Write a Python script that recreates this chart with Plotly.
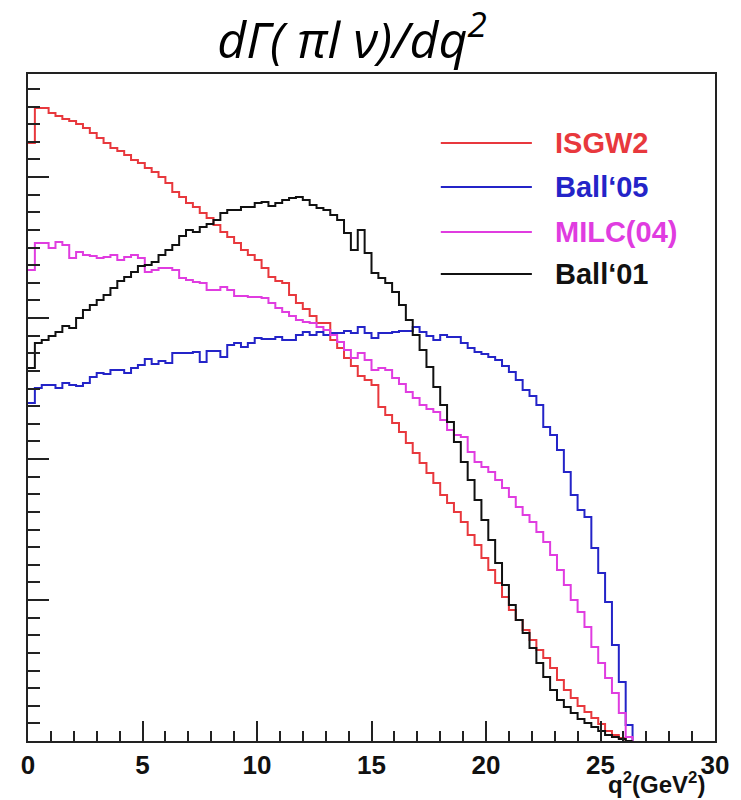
import numpy as np
import plotly.graph_objects as go

# Histogram binning (q^2 in GeV^2)
bin_width = 0.3
n_bins = 88

series_names = ["ISGW2", "Ball‘05", "MILC(04)", "Ball‘01"]
series_colors = ["#e8383d", "#2424c8", "#e03ce0", "#111111"]

# dGamma/dq^2 (arbitrary units) per bin
isgw2 = [598, 633, 633, 628, 625, 622, 620, 617, 613, 608,
         603, 598, 593, 590, 586, 581, 578, 573, 569, 564,
         558, 549, 544, 538, 534, 528, 523, 516, 509, 504,
         498, 491, 486, 481, 473, 464, 460, 458, 446, 438,
         432, 425, 418, 418, 401, 393, 383, 375, 365, 361,
         356, 334, 326, 318, 309, 298, 288, 278, 268, 258,
         246, 238, 229, 219, 206, 196, 183, 171, 158, 144,
         131, 121, 111, 101, 91, 83, 73, 61, 51, 43,
         35, 29, 23, 17, 10, 6, 3, 0]

ball05 = [338, 353, 356, 356, 353, 358, 356, 355, 358, 364,
          368, 367, 371, 371, 368, 373, 376, 382, 377, 380,
          378, 388, 388, 388, 389, 379, 390, 390, 384, 396,
          398, 394, 398, 403, 402, 402, 404, 401, 401, 406,
          409, 406, 409, 406, 408, 408, 410, 408, 414, 408,
          403, 408, 408, 409, 410, 410, 414, 409, 405, 401,
          406, 404, 404, 398, 393, 389, 387, 384, 381, 375,
          369, 361, 351, 345, 336, 314, 306, 291, 269, 246,
          231, 224, 193, 168, 139, 96, 59, 16]

milc04 = [471, 498, 498, 493, 499, 496, 483, 489, 486, 485,
          483, 484, 486, 481, 484, 486, 483, 469, 471, 473,
          473, 471, 463, 461, 459, 458, 451, 451, 454, 451,
          445, 445, 444, 444, 443, 438, 433, 429, 425, 421,
          419, 418, 414, 411, 406, 399, 391, 383, 388, 381,
          371, 373, 371, 363, 357, 349, 343, 336, 332, 329,
          321, 311, 306, 304, 289, 279, 274, 269, 261, 253,
          244, 234, 226, 219, 209, 199, 186, 171, 156, 141,
          129, 114, 94, 78, 63, 48, 28, 4]

ball01 = [373, 398, 401, 405, 409, 415, 413, 423, 431, 436,
          441, 446, 453, 460, 464, 469, 475, 476, 479, 486,
          491, 496, 505, 511, 509, 514, 517, 521, 528, 531,
          531, 534, 534, 538, 539, 535, 538, 541, 543, 544,
          541, 536, 533, 531, 526, 521, 508, 491, 511, 488,
          468, 463, 458, 449, 436, 421, 406, 391, 374, 354,
          336, 319, 299, 279, 261, 241, 221, 201, 178, 156,
          136, 121, 108, 93, 78, 64, 51, 41, 34, 28,
          22, 18, 14, 10, 6, 4, 2, 0]

all_series = [isgw2, ball05, milc04, ball01]

x_ticks = [0, 5, 10, 15, 20, 25, 30]
y_major = 141
y_max = 667

edges = np.arange(n_bins + 1) * bin_width

fig = go.Figure()
for name, color, vals in zip(series_names, series_colors, all_series):
    fig.add_trace(go.Scatter(
        x=edges, y=list(vals) + [0], mode="lines", line_shape="hv",
        line=dict(color=color, width=2), name=name, showlegend=False,
        cliponaxis=True,
    ))

# Manual legend (long line samples, coloured bold labels)
L, R, T, B = 28, 19, 74, 59
pw = 741 - L - R
ph = 800 - T - B
leg_y_px = [143, 187, 232, 274]
for name, color, ypx in zip(series_names, series_colors, leg_y_px):
    yp = (741 - ypx) / ph
    fig.add_shape(type="line", xref="paper", yref="paper",
                  x0=(445 - L) / pw, x1=(537 - L) / pw, y0=yp, y1=yp,
                  line=dict(color=color, width=2))
    fig.add_annotation(xref="paper", yref="paper", x=(558 - L) / pw, y=yp,
                       text=name, showarrow=False, xanchor="left", yanchor="middle",
                       font=dict(family="Liberation Sans", size=29, color=color, weight="bold"))

fig.add_annotation(xref="paper", yref="paper", x=(714 - L) / pw, y=(741 - 783) / ph,
                   text="q<sup>2</sup>(GeV<sup>2</sup>)", showarrow=False,
                   xanchor="right", yanchor="middle",
                   font=dict(family="Liberation Sans", size=24, color="#111", weight="bold"))

fig.update_layout(
    width=741, height=800,
    margin=dict(l=L, r=R, t=T, b=B),
    paper_bgcolor="white", plot_bgcolor="white",
    title=dict(text="dΓ( πl ν)/dq<sup>2</sup>", x=352 / 741, xanchor="center",
               y=1 - 40 / 800, yanchor="middle", yref="container",
               font=dict(family="Open Sans", size=50, color="black", style="italic")),
    showlegend=False,
)
fig.update_xaxes(range=[0, 30], tickvals=x_ticks, ticks="inside", ticklen=20, tickwidth=2,
                 tickcolor="#222", showline=True, linecolor="#222", linewidth=2, mirror=True,
                 showgrid=False, zeroline=False,
                 tickfont=dict(family="Liberation Sans", size=26, color="#111", weight="bold"),
                 minor=dict(dtick=1, ticks="inside", ticklen=10, tickwidth=2, tickcolor="#222"))
fig.update_yaxes(range=[0, y_max], tick0=0, dtick=y_major, ticks="inside", ticklen=21, tickwidth=2,
                 tickcolor="#222", showline=True, linecolor="#222", linewidth=2, mirror=True,
                 showgrid=False, zeroline=False, showticklabels=False,
                 minor=dict(tick0=0, dtick=y_major / 8, ticks="inside", ticklen=12, tickwidth=2,
                            tickcolor="#222"))

fig.write_html("out.html")
